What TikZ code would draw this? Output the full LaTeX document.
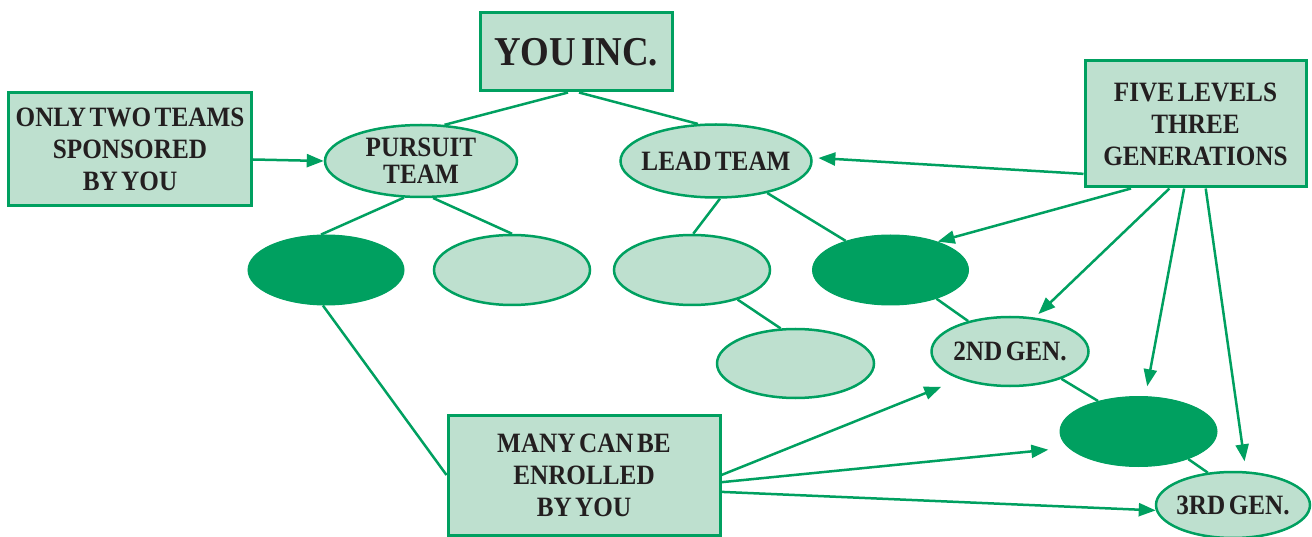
\documentclass[tikz,border=0pt]{standalone}
\usepackage{fontspec}
\setmainfont{Liberation Serif}[FakeStretch=0.9,WordSpace=0.55]
\usetikzlibrary{shapes.geometric,arrows.meta}
\definecolor{gline}{HTML}{00A060}
\definecolor{gfill}{HTML}{BEE0CF}
\definecolor{txt}{HTML}{231F20}
\begin{document}
\begin{tikzpicture}[x=1pt,y=-1pt,
  box/.style={rectangle,draw=gline,line width=3pt,fill=gfill,text=txt,
    font=\bfseries\fontsize{28}{32}\selectfont,align=center,inner sep=0pt},
  oval/.style={ellipse,draw=gline,line width=2.5pt,fill=gfill,text=txt,
    font=\bfseries\fontsize{28}{27}\selectfont,align=center,inner xsep=-10pt,inner ysep=-4pt},
  darkoval/.style={ellipse,draw=gline,fill=gline,line width=1pt,inner sep=0pt},
  link/.style={draw=gline,line width=2.5pt},
  arr/.style={link,-{Triangle[length=17pt,width=13pt]}}
]
\useasboundingbox (0,0) rectangle (1312,537);

% boxes
\node[box,minimum width=192pt,minimum height=78pt,font=\bfseries\fontsize{41}{41}\selectfont] (you) at (576,52) {YOU INC.};
\node[box,minimum width=243pt,minimum height=113pt] (only) at (130,149.5) {ONLY TWO TEAMS\\SPONSORED\\BY YOU};
\node[box,minimum width=221pt,minimum height=126pt] (five) at (1195.5,124) {FIVE LEVELS\\THREE\\GENERATIONS};
\node[box,minimum width=272pt,minimum height=120pt] (many) at (584,475) {MANY CAN BE\\ENROLLED\\BY YOU};

% ellipses
\node[oval,minimum width=192pt,minimum height=72pt] (pursuit) at (421,161) {PURSUIT\\TEAM};
\node[oval,minimum width=191pt,minimum height=73pt] (lead) at (716,161) {LEAD TEAM};
\node[darkoval,minimum width=156pt,minimum height=70pt] (dark1) at (326,270) {};
\node[oval,minimum width=156pt,minimum height=70pt] (light2) at (512,270) {};
\node[oval,minimum width=156pt,minimum height=70pt] (light3) at (692,270) {};
\node[darkoval,minimum width=156pt,minimum height=70pt] (dark4) at (890.5,270) {};
\node[oval,minimum width=157pt,minimum height=69pt] (light5) at (795.5,363.5) {};
\node[oval,minimum width=157pt,minimum height=69pt] (gen2) at (1010,351.5) {2ND GEN.};
\node[darkoval,minimum width=157pt,minimum height=70pt] (dark6) at (1138.5,431.5) {};
\node[oval,minimum width=154pt,minimum height=66pt] (gen3) at (1233,505) {3RD GEN.};

% tree lines
\draw[link] ([xshift=-8pt]you.south) -- (pursuit.57);
\draw[link] ([xshift=3pt]you.south) -- (lead.116);
\draw[link] (pursuit.245) -- (dark1.98);
\draw[link] (pursuit.288) -- (light2.north);
\draw[link] (lead.276) -- (light3.88);
\draw[link] (lead.328) -- (dark4.147.5);
\draw[link] (light3.327) -- (light5.113);
\draw[link] (dark4.328) -- (gen2.144);
\draw[link] (gen2.332) -- (dark6.143);
\draw[link] (dark6.331) -- (gen3.128);
\draw[link] (dark1.265) -- (many.west);

% arrows
\draw[arr] ([yshift=-10pt]only.east) -- (pursuit.west);
\draw[arr,shorten >=6pt] (five.204) -- (lead.2);
\draw[arr] (five.225) -- (dark4.31);
\draw[arr,shorten >=5pt] (five.248) -- (gen2.54);
\draw[arr,shorten >=10pt] (five.260) -- (dark6.79);
\draw[arr,shorten >=10pt] (five.279) -- (gen3.69);
\draw[arr,shorten >=20pt] (many.east) -- (gen2.209.5);
\draw[arr,shorten >=20pt] (many.-3) -- (dark6.193.6);
\draw[arr] (many.-7.5) -- (gen3.184);
\end{tikzpicture}
\end{document}
